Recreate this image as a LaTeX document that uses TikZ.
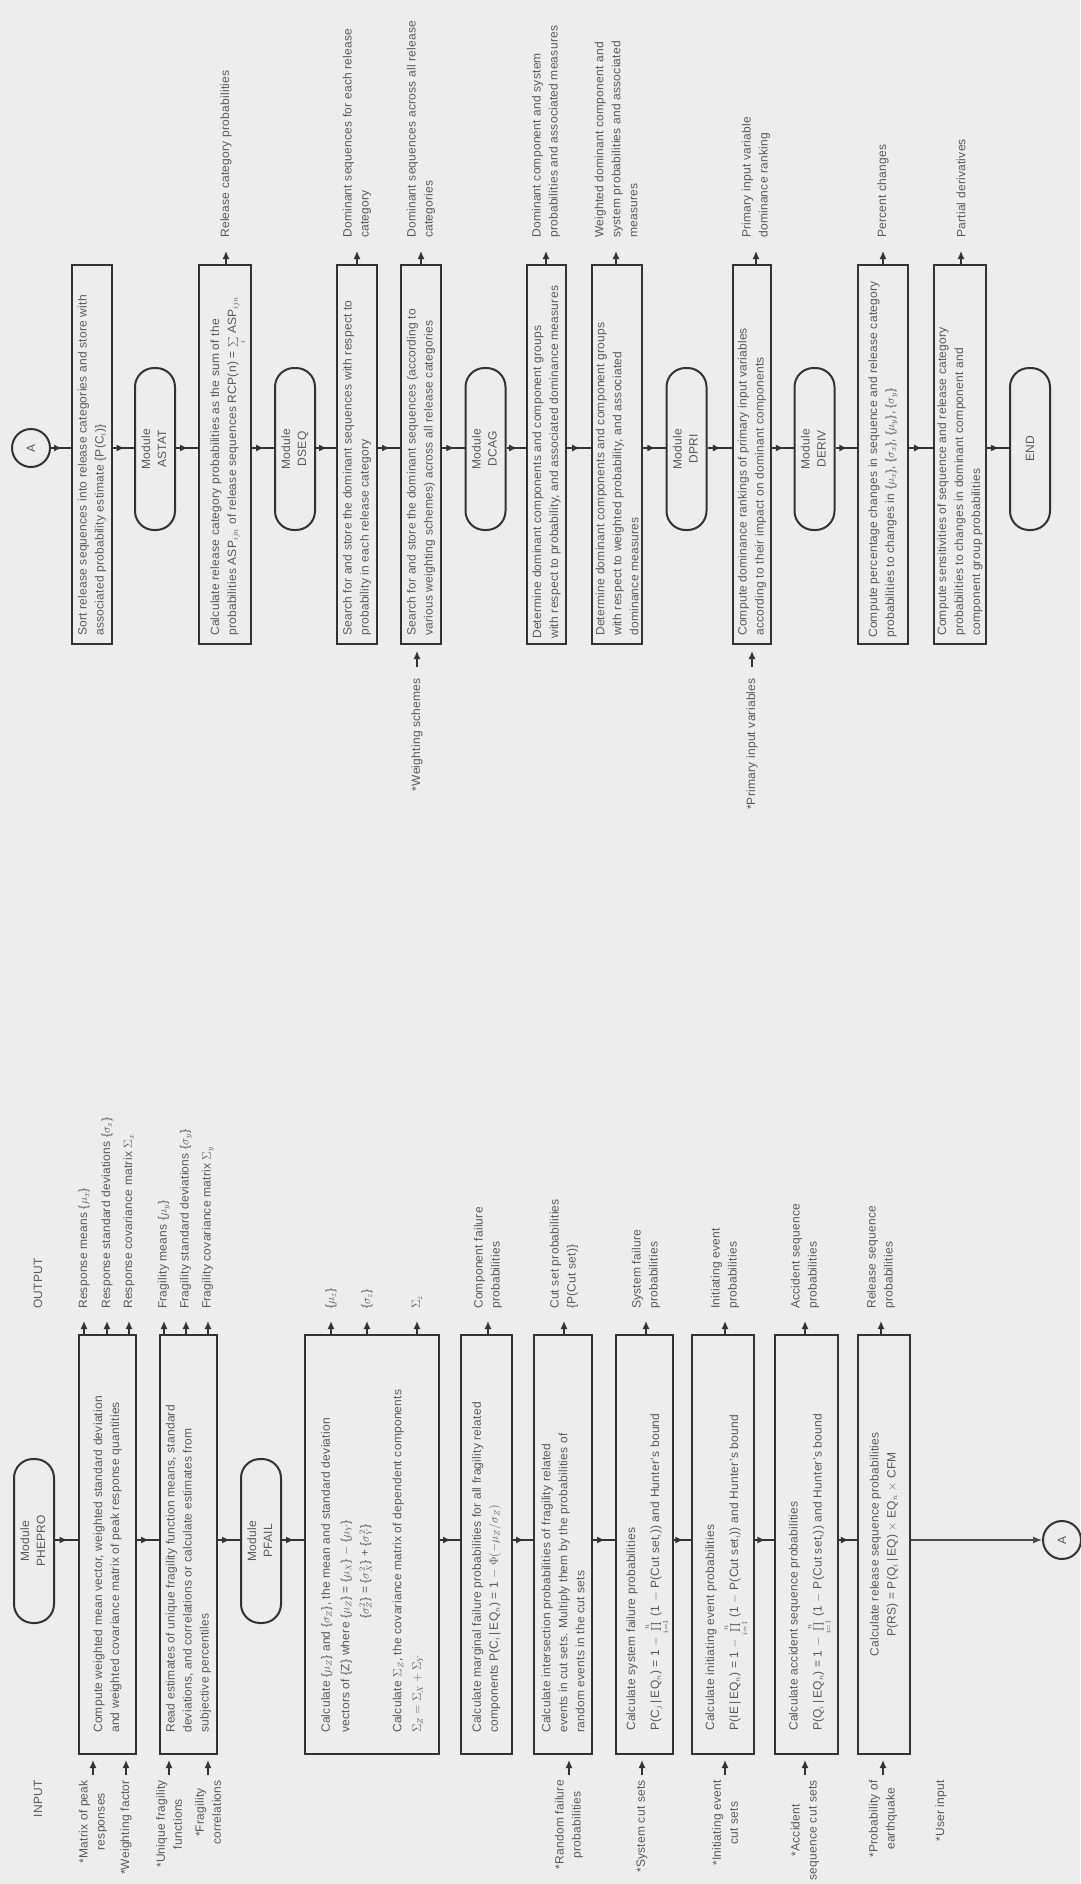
\documentclass[tikz,border=0pt]{standalone}
\usepackage{fontspec}
\usepackage{graphicx}
\setmainfont[LetterSpace=2]{Liberation Sans}
\usetikzlibrary{arrows.meta,decorations.markings}
\tikzset{
  ubox/.style={draw=black!80, line width=2pt, inner sep=0pt, minimum height=379pt},
  lbox/.style={draw=black!80, line width=2pt, inner sep=0pt, minimum height=419pt},
  modl/.style={draw=black!80, line width=2pt, rounded corners=19pt, minimum width=40pt, inner sep=0pt, text=black!65, font=\fontsize{12}{16}\selectfont},
  circ/.style={draw=black!80, line width=2pt, circle, minimum size=38pt, inner sep=0pt, text=black!65, font=\fontsize{12}{14}\selectfont},
  rtxt/.style={rotate=90, text=black!65, font=\fontsize{12}{17}\selectfont, inner sep=0pt, align=left},
  ctr/.style={rtxt, align=center},
  flow/.style={draw=black!80, line width=1.8pt, postaction={decorate}, decoration={markings, mark=at position 0.55 with {\arrow{Latex[length=8pt,width=7pt]}}}},
  tip/.style={draw=black!80, line width=1.4pt, -{Latex[length=8pt,width=7pt]}},
  endarr/.style={draw=black!70, line width=1.2pt, -{Latex[length=9pt,width=7pt]}},
}
\begin{document}
\begin{tikzpicture}[x=1pt,y=-1pt]
\fill[black!7] (0,0) rectangle (1080,1884);
\useasboundingbox (0,0) rectangle (1080,1884);
\coordinate (axU) at (0,448);
\coordinate (axL) at (0,1540);

% ================= upper flow =================
\node[circ] (cA) at (31,448) {\rotatebox{90}{A}};
\node[ubox, minimum width=40pt] (s1) at (92,454.5) {};
\node[rtxt, anchor=west] (s1t) at ([yshift=9pt]s1.south) {Sort release sequences into release categories and store with\\associated probability estimate \{P(C$_i$)\}};
\node[modl, minimum height=162pt] (mA) at (155,449) {\rotatebox{90}{\begin{tabular}{@{}c@{}}Module\\ASTAT\end{tabular}}};
\node[ubox, minimum width=52pt] (s2) at (225,454.5) {};
\node[rtxt, anchor=west] (s2t) at ([yshift=9pt]s2.south) {Calculate release category probabilities as the sum of the\\probabilities ASP$_{ijn}$ of release sequences RCP(n) = $\smash{\sum\limits_{i}}$ ASP$_{ijn}$};
\node[modl, minimum height=162pt] (mD) at (295,449) {\rotatebox{90}{\begin{tabular}{@{}c@{}}Module\\DSEQ\end{tabular}}};
\node[ubox, minimum width=40pt] (s3) at (357,454.5) {};
\node[rtxt, anchor=west] (s3t) at ([yshift=9pt]s3.south) {Search for and store the dominant sequences with respect to\\probability in each release category};
\node[ubox, minimum width=40pt] (s4) at (421,454.5) {};
\node[rtxt, anchor=west] (s4t) at ([yshift=9pt]s4.south) {Search for and store the dominant sequences (according to\\various weighting schemes) across all release categories};
\node[modl, minimum height=162pt] (mC) at (485.5,449) {\rotatebox{90}{\begin{tabular}{@{}c@{}}Module\\DCAG\end{tabular}}};
\node[ubox, minimum width=39pt] (s5) at (546.5,454.5) {};
\node[rtxt, anchor=west] (s5t) at ([yshift=6pt]s5.south) {Determine dominant components and component groups\\with respect to probability, and associated dominance measures};
\node[ubox, minimum width=50pt] (s6) at (617,454.5) {};
\node[rtxt, anchor=west] (s6t) at ([yshift=9pt]s6.south) {Determine dominant components and component groups\\with respect to weighted probability, and associated\\dominance measures};
\node[modl, minimum height=162pt] (mR) at (686.5,449) {\rotatebox{90}{\begin{tabular}{@{}c@{}}Module\\DPRI\end{tabular}}};
\node[ubox, minimum width=38pt] (s7) at (752,454.5) {};
\node[rtxt, anchor=west] (s7t) at ([yshift=9pt]s7.south) {Compute dominance rankings of primary input variables\\according to their impact on dominant components};
\node[modl, minimum height=162pt] (mV) at (814.5,449) {\rotatebox{90}{\begin{tabular}{@{}c@{}}Module\\DERIV\end{tabular}}};
\node[ubox, minimum width=50pt] (s8) at (883,454.5) {};
\node[rtxt, anchor=west] (s8t) at ([yshift=7pt]s8.south) {Compute percentage changes in sequence and release category\\probabilities to changes in \{$\mu_x$\}, \{$\sigma_x$\}, \{$\mu_y$\}, \{$\sigma_y$\}};
\node[ubox, minimum width=52pt] (s9) at (960,454.5) {};
\node[rtxt, anchor=west] (s9t) at ([yshift=9pt]s9.south) {Compute sensitivities of sequence and release category\\probabilities to changes in dominant component and\\component group probabilities};
\node[modl, minimum height=162pt] (mE) at (1030,449) {\rotatebox{90}{END}};

\draw[flow] (cA.east) -- (s1.west |- axU);
\draw[flow] (s1.east |- axU) -- (mA.west |- axU);
\draw[flow] (mA.east |- axU) -- (s2.west |- axU);
\draw[flow] (s2.east |- axU) -- (mD.west |- axU);
\draw[flow] (mD.east |- axU) -- (s3.west |- axU);
\draw[flow] (s3.east |- axU) -- (s4.west |- axU);
\draw[flow] (s4.east |- axU) -- (mC.west |- axU);
\draw[flow] (mC.east |- axU) -- (s5.west |- axU);
\draw[flow] (s5.east |- axU) -- (s6.west |- axU);
\draw[flow] (s6.east |- axU) -- (mR.west |- axU);
\draw[flow] (mR.east |- axU) -- (s7.west |- axU);
\draw[flow] (s7.east |- axU) -- (mV.west |- axU);
\draw[flow] (mV.east |- axU) -- (s8.west |- axU);
\draw[flow] (s8.east |- axU) -- (s9.west |- axU);
\draw[flow] (s9.east |- axU) -- (mE.west |- axU);

% upper outputs
\node[rtxt, anchor=west] (o2) at (226,238) {Release category probabilities};
\node[rtxt, anchor=west] (o3) at (357,238) {Dominant sequences for each release\\category};
\node[rtxt, anchor=west] (o4) at (421,238) {Dominant sequences across all release\\categories};
\node[rtxt, anchor=west] (o5) at (546,238) {Dominant component and system\\probabilities and associated measures};
\node[rtxt, anchor=west] (o6) at (616,238) {Weighted dominant component and\\system probabilities and associated\\measures};
\node[rtxt, anchor=west] (o7) at (756,238) {Primary input variable\\dominance ranking};
\node[rtxt, anchor=west] (o8) at (883,238) {Percent changes};
\node[rtxt, anchor=west] (o9) at (961,238) {Partial derivatives};
\draw[tip] (o2.west |- s2.north) -- ++(0,-13);
\draw[tip] (o3.west |- s3.north) -- ++(0,-13);
\draw[tip] (o4.west |- s4.north) -- ++(0,-13);
\draw[tip] (o5.west |- s5.north) -- ++(0,-13);
\draw[tip] (o6.west |- s6.north) -- ++(0,-13);
\draw[tip] (o7.west |- s7.north) -- ++(0,-13);
\draw[tip] (o8.west |- s8.north) -- ++(0,-13);
\draw[tip] (o9.west |- s9.north) -- ++(0,-13);

% upper inputs
\node[ctr, anchor=east] (i4) at (417,678) {*Weighting schemes};
\node[ctr, anchor=east] (i7) at (752,678) {*Primary input variables};
\draw[tip] (i4.east |- s4.south) ++(0,22) -- ++(0,-16);
\draw[tip] (i7.east |- s7.south) ++(0,22) -- ++(0,-16);

% ================= lower flow =================
\node[rtxt, anchor=west] (lout) at (38,1309) {OUTPUT};
\node[rtxt, anchor=east] (lin) at (38,1780) {INPUT};

\node[modl, minimum height=164pt] (mP) at (34,1541) {\rotatebox{90}{\begin{tabular}{@{}c@{}}Module\\PHEPRO\end{tabular}}};
\node[lbox, minimum width=57pt] (b1) at (107.5,1544.5) {};
\node[rtxt, anchor=west] (b1t) at ([yshift=22pt]b1.south) {Compute weighted mean vector, weighted standard deviation\\and weighted covariance matrix of peak response quantities};
\node[lbox, minimum width=57pt] (b2) at (188.5,1544.5) {};
\node[rtxt, anchor=west] (b2t) at ([yshift=22pt]b2.south) {Read estimates of unique fragility function means, standard\\deviations, and correlations or calculate estimates from\\subjective percentiles};
\node[modl, minimum height=164pt] (mF) at (261,1541) {\rotatebox{90}{\begin{tabular}{@{}c@{}}Module\\PFAIL\end{tabular}}};
\node[lbox, minimum width=134pt] (b3) at (372,1544.5) {};
\node[rtxt, anchor=west, font=\fontsize{12}{19.5}\selectfont] (b3t) at ([yshift=22pt]b3.south) {Calculate \{$\mu_Z$\} and \{$\sigma_Z$\}, the mean and standard deviation\\vectors of \{Z\} where \{$\mu_Z$\} = \{$\mu_X$\} $-$ \{$\mu_Y$\}\\\phantom{vectors of \{Z\} where }\{$\sigma_Z^2$\} = \{$\sigma_X^2$\} + \{$\sigma_Y^2$\}\\[13pt]Calculate $\Sigma_Z$, the covariance matrix of dependent components\\$\Sigma_Z = \Sigma_X + \Sigma_Y$};
\node[lbox, minimum width=51pt] (b4) at (486.5,1544.5) {};
\node[rtxt, anchor=west] (b4t) at ([yshift=22pt]b4.south) {Calculate marginal failure probabilities for all fragility related\\components P(C$_i$\,|\,EQ$_n$) = 1 $-$ $\Phi(-\mu_Z/\sigma_Z)$};
\node[lbox, minimum width=58pt] (b5) at (563,1544.5) {};
\node[rtxt, anchor=west] (b5t) at ([yshift=22pt]b5.south) {Calculate intersection probabilities of fragility related\\events in cut sets. Multiply them by the probabilities of\\random events in the cut sets};
\node[lbox, minimum width=57pt] (b6) at (644.5,1544.5) {};
\node[rtxt, anchor=west] (b6t) at ([yshift=24pt]b6.south) {Calculate system failure probabilities\\[7pt]P(C$_j$\,|\,EQ$_n$) = 1 $-$ $\smash{\prod\limits_{i=1}^{n}}$ (1 $-$ P(Cut set$_i$)) and Hunter's bound};
\node[lbox, minimum width=62pt] (b7) at (723,1544.5) {};
\node[rtxt, anchor=west] (b7t) at ([yshift=24pt]b7.south) {Calculate initiating event probabilities\\[7pt]P(IE\,|\,EQ$_n$) = 1 $-$ $\smash{\prod\limits_{i=1}^{n}}$ (1 $-$ P(Cut set$_i$)) and Hunter's bound};
\node[lbox, minimum width=63pt] (b8) at (806.5,1544.5) {};
\node[rtxt, anchor=west] (b8t) at ([yshift=24pt]b8.south) {Calculate accident sequence probabilities\\[7pt]P(Q$_i$\,|\,EQ$_n$) = 1 $-$ $\smash{\prod\limits_{i=1}^{n}}$ (1 $-$ P(Cut set$_i$)) and Hunter's bound};
\node[lbox, minimum width=52pt] (b9) at (884,1544.5) {};
\node[ctr] (b9t) at (b9.center) {Calculate release sequence probabilities\\P(RS) = P(Q$_i$\,|\,EQ) $\times$ EQ$_n$ $\times$ CFM};
\node[circ] (cB) at (1062,1540) {\rotatebox{90}{A}};

\draw[flow] (mP.east |- axL) -- (b1.west |- axL);
\draw[flow] (b1.east |- axL) -- (b2.west |- axL);
\draw[flow] (b2.east |- axL) -- (mF.west |- axL);
\draw[flow] (mF.east |- axL) -- (b3.west |- axL);
\draw[flow] (b3.east |- axL) -- (b4.west |- axL);
\draw[flow] (b4.east |- axL) -- (b5.west |- axL);
\draw[flow] (b5.east |- axL) -- (b6.west |- axL);
\draw[flow] (b6.east |- axL) -- (b7.west |- axL);
\draw[flow] (b7.east |- axL) -- (b8.west |- axL);
\draw[flow] (b8.east |- axL) -- (b9.west |- axL);
\draw[endarr] (b9.east |- axL) -- (cB.west);

% lower outputs
\node[rtxt, anchor=west] (oa1) at (84,1309) {Response means \{$\mu_x$\}};
\node[rtxt, anchor=west] (oa2) at (107,1309) {Response standard deviations \{$\sigma_x$\}};
\node[rtxt, anchor=west] (oa3) at (129,1309) {Response covariance matrix $\Sigma_x$};
\node[rtxt, anchor=west] (ob1) at (164,1309) {Fragility means \{$\mu_y$\}};
\node[rtxt, anchor=west] (ob2) at (186,1309) {Fragility standard deviations \{$\sigma_y$\}};
\node[rtxt, anchor=west] (ob3) at (208,1309) {Fragility covariance matrix $\Sigma_y$};
\node[rtxt, anchor=west] (oc1) at (331,1309) {\{$\mu_z$\}};
\node[rtxt, anchor=west] (oc2) at (367,1309) {\{$\sigma_z$\}};
\node[rtxt, anchor=west] (oc3) at (417,1309) {$\Sigma_z$};
\node[rtxt, anchor=west] (od) at (488,1309) {Component failure\\probabilities};
\node[rtxt, anchor=west] (oe) at (564,1309) {Cut set probabilities\\\{P(Cut set)\}};
\node[rtxt, anchor=west] (of) at (646,1309) {System failure\\probabilities};
\node[rtxt, anchor=west] (og) at (725,1309) {Initiating event\\probabilities};
\node[rtxt, anchor=west] (oh) at (805,1309) {Accident sequence\\probabilities};
\node[rtxt, anchor=west] (oi) at (881,1309) {Release sequence\\probabilities};
\draw[tip] (oa1.west |- b1.north) -- ++(0,-13);
\draw[tip] (oa2.west |- b1.north) -- ++(0,-13);
\draw[tip] (oa3.west |- b1.north) -- ++(0,-13);
\draw[tip] (ob1.west |- b2.north) -- ++(0,-13);
\draw[tip] (ob2.west |- b2.north) -- ++(0,-13);
\draw[tip] (ob3.west |- b2.north) -- ++(0,-13);
\draw[tip] (oc1.west |- b3.north) -- ++(0,-13);
\draw[tip] (oc2.west |- b3.north) -- ++(0,-13);
\draw[tip] (oc3.west |- b3.north) -- ++(0,-13);
\draw[tip] (od.west |- b4.north) -- ++(0,-13);
\draw[tip] (oe.west |- b5.north) -- ++(0,-13);
\draw[tip] (of.west |- b6.north) -- ++(0,-13);
\draw[tip] (og.west |- b7.north) -- ++(0,-13);
\draw[tip] (oh.west |- b8.north) -- ++(0,-13);
\draw[tip] (oi.west |- b9.north) -- ++(0,-13);

% lower inputs
\node[ctr, anchor=east] (ia1) at (93,1780) {*Matrix of peak\\responses};
\node[ctr, anchor=east] (ia2) at (126,1780) {*Weighting factor};
\node[ctr, anchor=east] (ib1) at (169,1780) {*Unique fragility\\functions};
\node[ctr, anchor=east] (ib2) at (208,1780) {*Fragility\\correlations};
\node[ctr, anchor=east] (ie) at (569,1780) {*Random failure\\probabilities};
\node[ctr, anchor=east] (if) at (642,1780) {*System cut sets};
\node[ctr, anchor=east] (ig) at (725,1780) {*Initiating event\\cut sets};
\node[ctr, anchor=east] (ih) at (805,1780) {*Accident\\sequence cut sets};
\node[ctr, anchor=east] (ii) at (883,1780) {*Probability of\\earthquake};
\node[ctr, anchor=east] (iu) at (941,1780) {*User input};
\draw[tip] (ia1.east |- b1.south) ++(0,20) -- ++(0,-15);
\draw[tip] (ia2.east |- b1.south) ++(0,20) -- ++(0,-15);
\draw[tip] (ib1.east |- b2.south) ++(0,20) -- ++(0,-15);
\draw[tip] (ib2.east |- b2.south) ++(0,20) -- ++(0,-15);
\draw[tip] (ie.east |- b5.south) ++(0,20) -- ++(0,-15);
\draw[tip] (if.east |- b6.south) ++(0,20) -- ++(0,-15);
\draw[tip] (ig.east |- b7.south) ++(0,20) -- ++(0,-15);
\draw[tip] (ih.east |- b8.south) ++(0,20) -- ++(0,-15);
\draw[tip] (ii.east |- b9.south) ++(0,20) -- ++(0,-15);
\end{tikzpicture}
\end{document}
